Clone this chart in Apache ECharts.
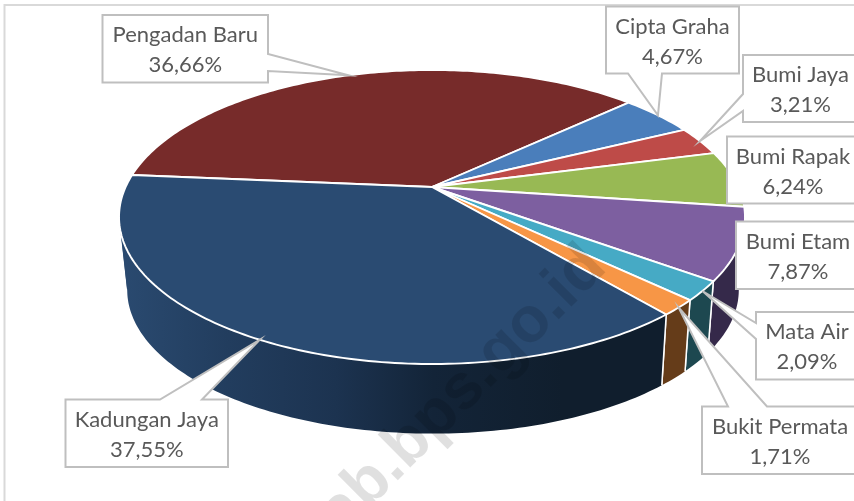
<!DOCTYPE html>
<html><head><meta charset="utf-8">
<style>html,body{margin:0;padding:0;background:#fff}#c{width:854px;height:501px}</style>
<script src="https://cdn.jsdelivr.net/npm/echarts@6/dist/echarts.min.js"></script>
</head><body><div id="c"></div>
<script>
// ---- data (clockwise from the Pengadan Baru / Kadungan Jaya seam)
const categories = ['Pengadan Baru','Cipta Graha','Bumi Jaya','Bumi Rapak','Bumi Etam','Mata Air','Bukit Permata','Kadungan Jaya'];
const shares = [36.66,4.67,3.21,6.24,7.87,2.09,1.71,37.55];
const topColors = ['#772b2a','#4a7ebb','#be4b48','#98b954','#7d5fa0','#46aac5','#f79646','#2a4b72'];
const sideColors = ['#4a1a1a','#2c4c70','#722d2b','#5b6f32','#35294a','#1d4850','#653c19','#1a3050'];

// ---- projection of the tilted disc
const START_DEG = 175;
const apex = [432,187], R = 306.4, Q = 140.9, P = 0.204;
const midTop = [432,217], midBottom = [433,290], shrink = 0.977;
const tangents = [-11.8,-168.2];
const total = shares.reduce((a,b)=>a+b,0);
function rim(deg){
  const t = deg*Math.PI/180, u = Math.cos(t), v = Math.sin(t), w = 1+P*v;
  return [apex[0]+R*u/w, apex[1]-Q*v/w];
}
function rimLow(deg){
  const p = rim(deg);
  return [midBottom[0]+(p[0]-midTop[0])*shrink, midBottom[1]+(p[1]-midTop[1])*shrink];
}
function sliceAngles(i){
  let before = 0;
  for(let k=0;k<i;k++) before += shares[k];
  const a0 = START_DEG - before/total*360;
  return [a0, a0 - shares[i]/total*360];
}
function arc(a0,a1,fn){
  const n = Math.max(2,Math.ceil(Math.abs(a0-a1))), pts=[];
  for(let k=0;k<=n;k++) pts.push(fn(a0+(a1-a0)*k/n));
  return pts;
}
const wallGradient = new echarts.graphic.LinearGradient(120,0,660,0,[
  {offset:0,color:'#2a4a70'},{offset:0.2,color:'#223d5e'},{offset:0.4,color:'#1c3350'},
  {offset:0.58,color:'#132438'},{offset:0.82,color:'#101e2d'},{offset:1,color:'#101e2d'}],true);

// ---- callout boxes: [left, top, right, bottom], wedge side and wedge base
const callouts = [
  {box:[102.5,15,268,82.5], side:'right', base:[54,71]},
  {box:[606,6.5,739,73.5], side:'bottom', base:[662,628]},
  {box:[743,55,858,122], side:'left', base:[111,94]},
  {box:[727,136.5,859,203.5]},
  {box:[736,221.5,860,289]},
  {box:[756,312,858,379.5], side:'left', base:[339,323]},
  {box:[702,406.5,858,474], side:'top', base:[728,767]},
  {box:[65.5,399.5,228,467], side:'top', base:[160,202]}
];
function calloutPoints(c,tip){
  const [l,t,r,b] = c.box, s=c.side, e=c.base;
  const pts=[[l,t]];
  if(s==='top') pts.push([e[0],t],tip,[e[1],t]);
  pts.push([r,t]);
  if(s==='right') pts.push([r,e[0]],tip,[r,e[1]]);
  pts.push([r,b]);
  if(s==='bottom') pts.push([e[0],b],tip,[e[1],b]);
  pts.push([l,b]);
  if(s==='left') pts.push([l,e[0]],tip,[l,e[1]]);
  return pts;
}
const seriesData = shares.map((v,i)=>({name:categories[i],value:[i,v]}));

const option = {
  backgroundColor:'#fff',
  animation:false,
  graphic:[
    {type:'rect',z:0,silent:true,shape:{x:4.5,y:5,width:900,height:520},style:{fill:'#fff',stroke:'#d9d9d9',lineWidth:2}},
    {type:'text',z:50,silent:true,x:596,y:257,rotation:Math.PI/4,
     style:{text:'kab.bps.go.id',align:'right',verticalAlign:'middle',fill:'rgba(0,0,0,0.12)',
            fontFamily:'Liberation Sans',fontWeight:'bold',fontSize:64}}
  ],
  series:[
    {type:'custom',coordinateSystem:'none',z:2,silent:true,data:seriesData,
     renderItem(params,api){
       const i=api.value(0), [a0,a1]=sliceAngles(i);
       const fill=i===7?wallGradient:sideColors[i];
       const stops=[a0].concat(tangents.filter(t=>t<a0&&t>a1),[a1]);
       const children=[];
       for(let k=0;k<stops.length-1;k++){
         const from=stops[k]+(k>0?0.6:0), to=stops[k+1];
         const up=arc(from,to,rim), low=arc(to,from,rimLow);
         children.push({type:'polygon',shape:{points:up.concat(low)},style:{fill:fill}});
       }
       [a0,a1].forEach(a=>{
         children.push({type:'polyline',shape:{points:[rim(a),rimLow(a)]},style:{fill:null,stroke:'#fff',lineWidth:1.5}});
       });
       return {type:'group',children:children};
     }},
    {type:'custom',coordinateSystem:'none',z:3,silent:true,data:seriesData,
     renderItem(params,api){
       const i=api.value(0), [a0,a1]=sliceAngles(i);
       return {type:'polygon',shape:{points:[apex].concat(arc(a0,a1,rim))},
         style:{fill:topColors[i],stroke:'#fff',lineWidth:1.9,lineJoin:'round'}};
     }},
    {type:'custom',coordinateSystem:'none',z:4,silent:true,data:seriesData,
     renderItem(params,api){
       const i=api.value(0), [a0,a1]=sliceAngles(i), c=callouts[i];
       const tip=rim((a0+a1)/2);
       const [l,t,r,b]=c.box;
       return {type:'group',children:[
         {type:'polygon',shape:{points:calloutPoints(c,tip)},style:{fill:'#fff',stroke:'#bfbfbf',lineWidth:2}},
         {type:'text',style:{x:(l+r)/2,y:(t+b)/2+1.5,align:'center',verticalAlign:'middle',
           text:categories[i]+'\n'+api.value(1).toFixed(2).replace('.',',')+'%',
           fill:'#595959',fontFamily:'Lato',fontSize:22,lineHeight:30}}
       ]};
     }}
  ]
};
echarts.init(document.getElementById('c'),null,{renderer:'canvas'}).setOption(option);
</script></body></html>
